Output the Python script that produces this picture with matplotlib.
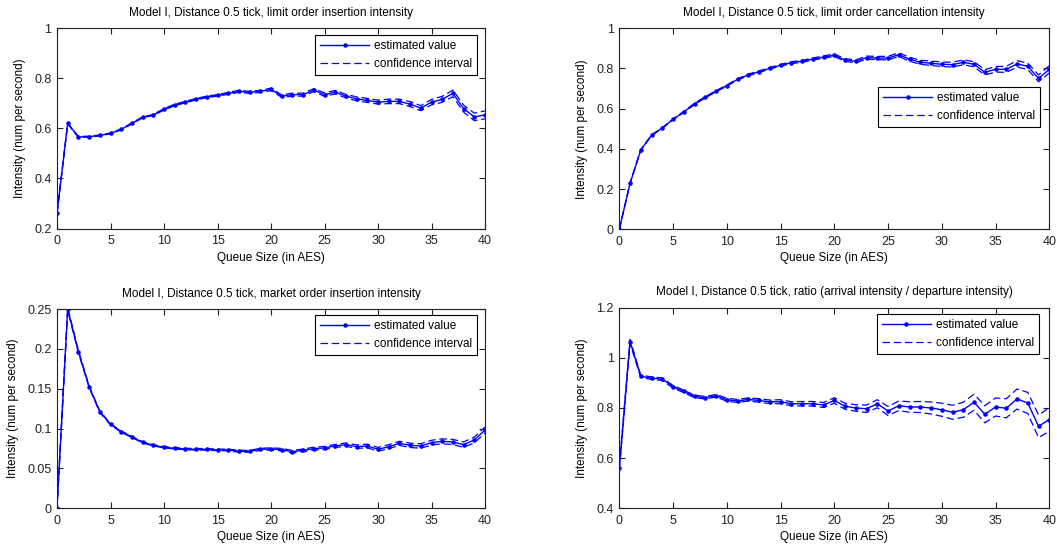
import matplotlib
matplotlib.use("Agg")
import matplotlib.pyplot as plt
import numpy as np
from matplotlib.ticker import FuncFormatter

plt.rcParams['font.family'] = ['Liberation Sans', 'DejaVu Sans']

queue = list(range(41))

titles = [
    "Model I, Distance 0.5 tick, limit order insertion intensity",
    "Model I, Distance 0.5 tick, limit order cancellation intensity",
    "Model I, Distance 0.5 tick, market order insertion intensity",
    "Model I, Distance 0.5 tick, ratio (arrival intensity / departure intensity)",
]

limit_insert = [0.26, 0.62, 0.566, 0.567, 0.572, 0.58, 0.596, 0.62, 0.644, 0.654,
                0.676, 0.694, 0.705, 0.717, 0.726, 0.732, 0.74, 0.748, 0.744, 0.748,
                0.756, 0.729, 0.735, 0.735, 0.753, 0.735, 0.745, 0.729, 0.718, 0.712,
                0.705, 0.708, 0.708, 0.697, 0.681, 0.705, 0.716, 0.74, 0.679, 0.646,
                0.654]
limit_insert_hw = [0.001, 0.002, 0.002, 0.002, 0.002, 0.002, 0.002, 0.002, 0.002, 0.002,
                   0.003, 0.003, 0.003, 0.003, 0.003, 0.003, 0.004, 0.004, 0.004, 0.004,
                   0.005, 0.005, 0.006, 0.006, 0.006, 0.007, 0.007, 0.007, 0.008, 0.008,
                   0.008, 0.009, 0.009, 0.010, 0.010, 0.011, 0.012, 0.013, 0.014, 0.015,
                   0.016]

limit_cancel = [0.0, 0.229, 0.395, 0.468, 0.504, 0.547, 0.584, 0.624, 0.657, 0.687,
                0.715, 0.746, 0.768, 0.784, 0.801, 0.816, 0.829, 0.836, 0.847, 0.857,
                0.866, 0.842, 0.836, 0.854, 0.852, 0.852, 0.869, 0.846, 0.831, 0.826,
                0.821, 0.819, 0.831, 0.821, 0.781, 0.796, 0.796, 0.823, 0.811, 0.751,
                0.796]
limit_cancel_hw = [0.001, 0.002, 0.002, 0.002, 0.002, 0.002, 0.003, 0.003, 0.003, 0.003,
                   0.003, 0.003, 0.004, 0.004, 0.004, 0.004, 0.005, 0.005, 0.005, 0.006,
                   0.006, 0.007, 0.007, 0.008, 0.008, 0.009, 0.009, 0.010, 0.010, 0.011,
                   0.011, 0.012, 0.012, 0.013, 0.013, 0.014, 0.015, 0.016, 0.016, 0.017,
                   0.018]

market_insert = [0.0, 0.25, 0.1965, 0.1526, 0.1212, 0.1054, 0.0962, 0.0895, 0.0828, 0.079,
                 0.0765, 0.0753, 0.0744, 0.074, 0.074, 0.0732, 0.0732, 0.0715, 0.0715, 0.074,
                 0.0744, 0.0736, 0.071, 0.0727, 0.0748, 0.0757, 0.0782, 0.0799, 0.0773, 0.0782,
                 0.074, 0.0773, 0.0815, 0.079, 0.0782, 0.0824, 0.084, 0.0832, 0.0799, 0.0857,
                 0.0982]
market_insert_hw = [0.0005, 0.002, 0.0015, 0.001, 0.001, 0.0008, 0.0008, 0.0008, 0.0008, 0.0008,
                    0.0008, 0.0009, 0.0009, 0.001, 0.001, 0.001, 0.0011, 0.0012, 0.0012, 0.0013,
                    0.0014, 0.0015, 0.0016, 0.0017, 0.0018, 0.0019, 0.002, 0.0021, 0.0022, 0.0023,
                    0.0024, 0.0025, 0.0026, 0.0027, 0.0028, 0.003, 0.0031, 0.0032, 0.0034, 0.0036,
                    0.0038]

ratio = [0.559, 1.065, 0.926, 0.919, 0.915, 0.885, 0.866, 0.846, 0.841, 0.849,
         0.833, 0.828, 0.834, 0.830, 0.825, 0.825, 0.817, 0.817, 0.817, 0.812,
         0.830, 0.807, 0.800, 0.797, 0.817, 0.788, 0.809, 0.804, 0.804, 0.800,
         0.793, 0.783, 0.793, 0.823, 0.775, 0.804, 0.799, 0.836, 0.820, 0.727,
         0.754]
ratio_hw = [0.010, 0.008, 0.005, 0.005, 0.005, 0.005, 0.005, 0.005, 0.005, 0.005,
            0.006, 0.006, 0.006, 0.007, 0.007, 0.008, 0.008, 0.009, 0.009, 0.010,
            0.011, 0.012, 0.013, 0.015, 0.016, 0.018, 0.019, 0.021, 0.022, 0.024,
            0.026, 0.028, 0.030, 0.032, 0.034, 0.036, 0.038, 0.040, 0.042, 0.045,
            0.047]

series = [(limit_insert, limit_insert_hw), (limit_cancel, limit_cancel_hw),
          (market_insert, market_insert_hw), (ratio, ratio_hw)]
ylims = [(0.2, 1.0), (0.0, 1.0), (0.0, 0.25), (0.4, 1.2)]
ysteps = [0.2, 0.2, 0.05, 0.2]

W, H = 1057, 544
# axes boxes in pixels: left, top, right, bottom
boxes = [(57, 28.3, 485, 228.5), (619.3, 28.3, 1049.3, 229.3),
         (57, 309, 485, 508.3), (619.3, 307.7, 1049.3, 508.3)]
legend_anchor = [(0.603, 0.966), (0.602, 0.708), (0.603, 0.97), (0.599, 0.969)]

fig = plt.figure(figsize=(W / 100, H / 100), dpi=100)

for i in range(4):
    l, t, r, b = boxes[i]
    ax = fig.add_axes([l / W, 1 - b / H, (r - l) / W, (b - t) / H])
    y, hw = series[i]
    y = np.array(y)
    hw = np.array(hw)
    ax.plot(queue, y, '-', color='b', lw=1, marker='.', ms=4.5, label='estimated value')
    ax.plot(queue, y + hw, '--', color='b', lw=0.9, dashes=(6, 3), label='confidence interval')
    ax.plot(queue, y - hw, '--', color='b', lw=0.9, dashes=(6, 3))

    ax.set_xlim(0, 40)
    ax.set_ylim(*ylims[i])
    ax.set_xticks(range(0, 41, 5))
    lo, hi = ylims[i]
    ax.set_yticks(np.round(np.arange(lo, hi + 1e-9, ysteps[i]), 4))
    ax.yaxis.set_major_formatter(FuncFormatter(lambda v, p: '%g' % round(v, 4)))

    ax.tick_params(direction='in', length=4, width=0.8, top=True, right=True,
                   labelsize=9, colors='#222222')
    ax.tick_params(axis='x', pad=5)
    ax.tick_params(axis='y', pad=4)
    for s in ax.spines.values():
        s.set_linewidth(0.8)
        s.set_color('#222222')

    ax.set_title(titles[i], fontsize=8.5, pad=9)
    ax.set_xlabel('Queue Size (in AES)', fontsize=8.5, labelpad=3)
    ax.set_ylabel('Intensity (num per second)', fontsize=8.5, labelpad=6)

    leg = ax.legend(loc='upper left', bbox_to_anchor=legend_anchor[i], borderaxespad=0,
                    fancybox=False, framealpha=1, edgecolor='black', fontsize=8.5,
                    handlelength=4.2, handletextpad=0.4, borderpad=0.4, labelspacing=0.55)
    leg.get_frame().set_linewidth(0.8)

fig.savefig('out.png', dpi=100)
